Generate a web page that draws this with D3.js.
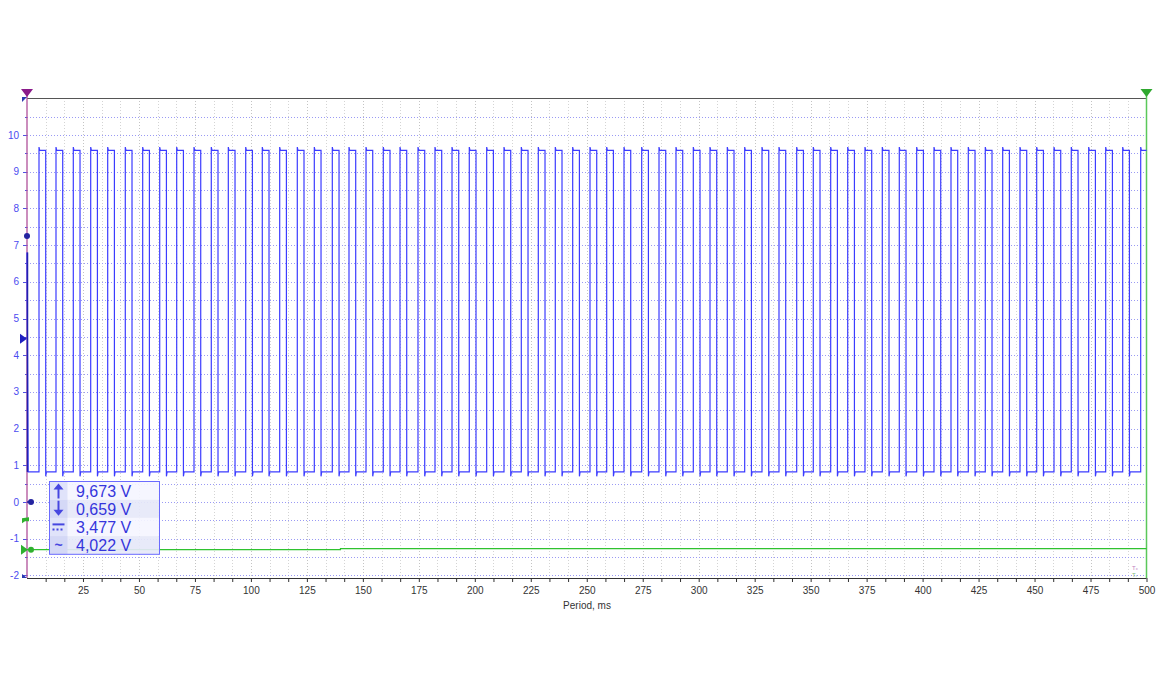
<!DOCTYPE html>
<html>
<head>
<meta charset="utf-8">
<script src="https://cdn.jsdelivr.net/npm/d3@7"></script>
<style>
  html, body { margin: 0; padding: 0; background: #fff; }
  svg { display: block; }
  text { font-family: "Liberation Sans", Arial, sans-serif; }
</style>
</head>
<body>
<svg id="chart" width="1156" height="700"></svg>
<script>
// ---------------- data ----------------
const xTickLabels = [25, 50, 75, 100, 125, 150, 175, 200, 225, 250, 275, 300, 325, 350, 375, 400, 425, 450, 475, 500];
const yTickLabels = [10, 9, 8, 7, 6, 5, 4, 3, 2, 1, 0, -1, -2];
const xTitle = "Period, ms";

// rising edge times of the blue channel (ms)
const riseTimes = [5.36, 12.95, 20.68, 28.45, 36.04, 43.90, 51.67, 59.27, 66.86, 74.59,
  82.31, 89.91, 97.68, 105.09, 112.86, 120.72, 128.32, 136.36, 143.81, 151.41,
  159.13, 166.59, 174.63, 182.22, 189.82, 197.54, 205.31, 213.04, 220.77, 228.36,
  235.95, 243.72, 251.45, 258.91, 266.64, 274.54, 282.27, 289.86, 297.59, 305.05,
  312.77, 320.54, 328.27, 335.86, 343.77, 351.18, 358.95, 366.55, 374.27, 382.00,
  389.59, 397.36, 405.09, 412.68, 420.41, 428.00, 435.77, 443.50, 450.96, 458.69,
  466.41, 474.18, 481.77, 489.37, 497.41];
const highWidthMs = 3.0;      // width of each high phase (ms)
const highLevel = 9.58;       // top of pulses (V)
const highSpike = 9.67;       // small overshoot at rising edge
const lowLevel = 0.82;        // bottom level (V)
const lowDip = 0.70;          // undershoot after falling edge
const startLevel = 6.8;       // trace value at t = 0

// green channel (flat)
const greenTimes = [0, 140, 140, 500];
const greenValues = [-1.30, -1.30, -1.27, -1.27];

// legend readouts
const legendValues = ["9,673 V", "0,659 V", "3,477 V", "4,022 V"];

// ---------------- layout ----------------
const svg = d3.select("#chart");
const x = d3.scaleLinear().domain([0, 500]).range([27, 1146.5]);
const y = d3.scaleLinear().domain([-2, 10]).range([575.4, 135]);
const plotTop = 98, plotBottom = 578;
const yMax = y.invert(plotTop), yMin = y.invert(plotBottom);

const blue = "#3c3cff";
const green = "#2fc22f";

// gridlines vertical (every 25/3 ms)
const vGrid = d3.range(1, 60).map(i => i * 25 / 3);
svg.append("g").selectAll("line").data(vGrid).join("line")
  .attr("x1", d => Math.round(x(d)) + 0.5).attr("x2", d => Math.round(x(d)) + 0.5)
  .attr("y1", plotTop).attr("y2", plotBottom)
  .attr("stroke", (d, i) => ((i + 1) % 3 === 0) ? "#c4c4c4" : "#d4d4d4")
  .attr("stroke-width", 1)
  .attr("stroke-dasharray", "1,2");

// gridlines horizontal (every 0.5 V)
const hGrid = d3.range(-4, 22).map(i => i * 0.5).filter(v => v > yMin && v < yMax);
svg.append("g").selectAll("line").data(hGrid).join("line")
  .attr("x1", x(0)).attr("x2", x(500))
  .attr("y1", d => Math.round(y(d)) + 0.5).attr("y2", d => Math.round(y(d)) + 0.5)
  .attr("stroke", "#9a9af4")
  .attr("stroke-width", 1)
  .attr("stroke-dasharray", "1,2");

// top border
svg.append("line").attr("x1", x(0)).attr("x2", x(500))
  .attr("y1", plotTop + 0.5).attr("y2", plotTop + 0.5)
  .attr("stroke", "#555").attr("stroke-width", 1);

// x axis
const xAxis = d3.axisBottom(x)
  .tickValues(d3.range(1, 61).map(i => i * 25 / 3))
  .tickSize(4)
  .tickFormat(d => {
    const r = Math.round(d);
    return (Math.abs(d - r) < 1e-6 && xTickLabels.includes(r)) ? r : "";
  });
const gx = svg.append("g").attr("transform", `translate(0,${plotBottom})`).call(xAxis);
gx.select(".domain").attr("stroke", "#333").attr("d", `M${x(0)},0.5H${x(500)}`);
gx.selectAll(".tick line").attr("stroke", "#333");
gx.selectAll(".tick text").attr("fill", "#333").attr("font-size", 10)
  .attr("font-family", "Liberation Sans, Arial, sans-serif").attr("dy", "0.9em");

svg.append("text").attr("x", 587).attr("y", 609).attr("text-anchor", "middle")
  .attr("font-size", 10).attr("fill", "#333").text(xTitle);

// y axis labels & ticks
const gy = svg.append("g");
gy.selectAll("text").data(yTickLabels).join("text")
  .attr("x", 19).attr("y", d => y(d)).attr("dy", "0.35em")
  .attr("text-anchor", "end").attr("font-size", 10).attr("fill", "#4b4bf0")
  .text(d => d);
gy.selectAll("line.tk").data(hGrid).join("line").attr("class", "tk")
  .attr("x1", d => Number.isInteger(d) ? 23 : 25).attr("x2", 27)
  .attr("y1", d => Math.round(y(d)) + 0.5).attr("y2", d => Math.round(y(d)) + 0.5)
  .attr("stroke", "#5050e0");

// green vertical cursor line (right)
svg.append("line").attr("x1", x(500)).attr("x2", x(500)).attr("y1", 93).attr("y2", plotBottom)
  .attr("stroke", "#5ac85a").attr("stroke-width", 1.5);
// purple vertical line (left)
svg.append("line").attr("x1", x(0)).attr("x2", x(0)).attr("y1", 95).attr("y2", plotBottom)
  .attr("stroke", "#b0509a").attr("stroke-width", 1.3);

// ---------------- blue trace ----------------
const pts = [[0, startLevel], [0.5, lowLevel]];
riseTimes.forEach(tr => {
  const tf = tr + highWidthMs;
  pts.push([tr, lowLevel], [tr, highSpike], [tr + 0.3, highLevel]);
  if (tf < 500) {
    pts.push([tf, highLevel], [tf, lowDip], [tf + 0.3, lowLevel]);
  } else {
    pts.push([500, highLevel]);
  }
});
const line = d3.line().x(d => x(d[0])).y(d => y(d[1]));
svg.append("path").datum(pts).attr("d", line)
  .attr("fill", "none").attr("stroke", blue).attr("stroke-width", 1.2)
  .attr("stroke-linejoin", "miter");
// dark start segment
svg.append("line").attr("x1", x(0) + 0.5).attr("x2", x(0) + 0.5)
  .attr("y1", y(startLevel)).attr("y2", y(lowLevel))
  .attr("stroke", "#2020b0").attr("stroke-width", 1.5);

// ---------------- green trace ----------------
const gPts = greenTimes.map((t, i) => [t, greenValues[i]]);
svg.append("path").datum(gPts).attr("d", line)
  .attr("fill", "none").attr("stroke", green).attr("stroke-width", 1.2);

// ---------------- markers ----------------
const X0 = x(0);
// top purple trigger triangle
svg.append("path").attr("d", `M${X0 - 6},89 L${X0 + 6},89 L${X0},97 Z`).attr("fill", "#8a1a8a");
svg.append("path").attr("d", `M${X0 - 5},97 L${X0},97 L${X0 - 5},102 Z`).attr("fill", "#2a3ab0");
// top right green triangle
svg.append("path").attr("d", `M${x(500) - 6},89 L${x(500) + 6},89 L${x(500)},97 Z`).attr("fill", "#2fa82f");
// dark blue circle at 7.25
svg.append("circle").attr("cx", X0).attr("cy", y(7.25)).attr("r", 3).attr("fill", "#2424a0");
// blue right triangle at ~4.45
svg.append("path").attr("d", `M${X0 - 7},${y(4.45) - 5} L${X0},${y(4.45)} L${X0 - 7},${y(4.45) + 5} Z`).attr("fill", "#2020c0");
// zero marker
svg.append("line").attr("x1", X0).attr("x2", X0 + 4).attr("y1", y(0)).attr("y2", y(0)).attr("stroke", "#2424a0").attr("stroke-width", 1.5);
svg.append("circle").attr("cx", X0 + 4).attr("cy", y(0)).attr("r", 3).attr("fill", "#2424a0");
// green flag at -0.5
svg.append("path").attr("d", `M${X0 - 5},${y(-0.5) - 2} L${X0 + 2},${y(-0.5) - 3} L${X0 + 2},${y(-0.5) + 1} L${X0 - 2},${y(-0.5) + 1} L${X0 - 5},${y(-0.5) + 3} Z`).attr("fill", "#2fb02f");
// green triangle + circle at -1.3
svg.append("path").attr("d", `M${X0 - 6},${y(-1.3) - 5} L${X0 + 1},${y(-1.3)} L${X0 - 6},${y(-1.3) + 5} Z`).attr("fill", "#2fb02f");
svg.append("circle").attr("cx", X0 + 4).attr("cy", y(-1.3)).attr("r", 3).attr("fill", "#2fb02f");
// bottom-left small marker
svg.append("path").attr("d", `M${X0 - 5},${plotBottom - 4} L${X0},${plotBottom} L${X0 - 5},${plotBottom} Z`).attr("fill", "#2a3ab0");

// tiny corner glyphs bottom right
svg.append("text").attr("x", 1132).attr("y", 570).attr("font-size", 6).attr("fill", "#c080c0").text("T\u2093");
svg.append("text").attr("x", 1132).attr("y", 577).attr("font-size", 6).attr("fill", "#80c080").text("T\u1d63");

// ---------------- legend ----------------
const lg = svg.append("g");
const LX = 49.5, LY = 481.5, LW = 110, RH = 18.2, IW = 18;
lg.selectAll("rect.row").data(legendValues).join("rect").attr("class", "row")
  .attr("x", LX).attr("y", (d, i) => LY + i * RH).attr("width", LW).attr("height", RH)
  .attr("fill", (d, i) => i % 2 ? "#e6e8f8" : "#f5f5ff").attr("fill-opacity", 0.92);
lg.selectAll("rect.ic").data(legendValues).join("rect").attr("class", "ic")
  .attr("x", LX).attr("y", (d, i) => LY + i * RH).attr("width", IW).attr("height", RH)
  .attr("fill", (d, i) => i % 2 ? "#d4d8f6" : "#e0e3fa");
lg.append("rect").attr("x", LX).attr("y", LY).attr("width", LW).attr("height", RH * 4)
  .attr("fill", "none").attr("stroke", "#6b6bff").attr("stroke-width", 1);
lg.selectAll("text.val").data(legendValues).join("text").attr("class", "val")
  .attr("x", 76).attr("y", (d, i) => LY + i * RH + 15.3)
  .attr("font-size", 16).attr("fill", "#3535dc").text(d => d);
const ic = "#4646e0";
const ax = LX + 9;
// up arrow
lg.append("line").attr("x1", ax).attr("x2", ax).attr("y1", LY + 6).attr("y2", LY + 17).attr("stroke", ic).attr("stroke-width", 2);
lg.append("path").attr("d", `M${ax - 5},${LY + 8} L${ax},${LY + 2} L${ax + 5},${LY + 8} Z`).attr("fill", ic);
// down arrow
const dY = LY + RH;
lg.append("line").attr("x1", ax).attr("x2", ax).attr("y1", dY + 1).attr("y2", dY + 12).attr("stroke", ic).attr("stroke-width", 2);
lg.append("path").attr("d", `M${ax - 5},${dY + 10} L${ax},${dY + 16} L${ax + 5},${dY + 10} Z`).attr("fill", ic);
// mean icon
const mY = LY + 2 * RH;
lg.append("line").attr("x1", ax - 6).attr("x2", ax + 6).attr("y1", mY + 6.5).attr("y2", mY + 6.5).attr("stroke", ic).attr("stroke-width", 2);
lg.append("line").attr("x1", ax - 6).attr("x2", ax + 6).attr("y1", mY + 11.5).attr("y2", mY + 11.5).attr("stroke", ic).attr("stroke-width", 2).attr("stroke-dasharray", "2,2");
// rms icon
const rY = LY + 3 * RH;
lg.append("text").attr("x", ax).attr("y", rY + 14).attr("text-anchor", "middle").attr("font-size", 14).attr("font-weight", "bold").attr("fill", ic).text("~");
</script>
</body>
</html>
